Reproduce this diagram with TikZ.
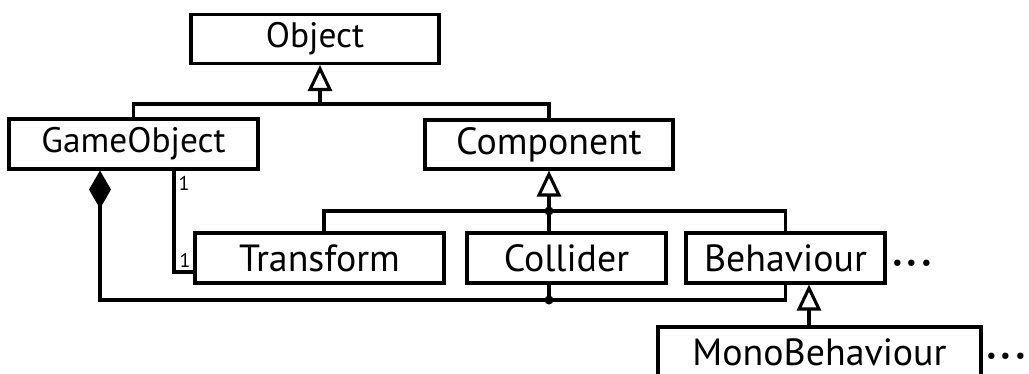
\documentclass[tikz,border=0pt]{standalone}
\usepackage{fontspec}
\setmainfont{PT Sans}
\usetikzlibrary{arrows.meta}

\tikzset{
  cls/.style={draw, line width=3.1bp, minimum height=50bp, inner sep=0pt, font=\fontsize{38}{40}\selectfont},
  clstop/.style={cls, font=\fontsize{35.5}{38}\selectfont},
  conn/.style={line width=3.1bp},
  inherit/.style={conn, -{Triangle[open, length=26bp, width=24bp]}},
  compose/.style={conn, {Diamond[length=38bp, width=22bp]}-},
  mult/.style={font=\fontsize{20}{22}\selectfont, inner sep=0pt},
  joint/.style={circle, fill, inner sep=0pt, minimum size=9bp},
  more/.style={font=\fontsize{55}{60}\selectfont, inner sep=0pt, anchor=base},
}

\begin{document}
\begin{tikzpicture}[x=1bp,y=-1bp]
\useasboundingbox (0,0) rectangle (1029,373);
\clip (0,0) rectangle (1029,373);

\node[clstop, minimum width=248bp, minimum height=49bp] (object) at (315,39) {Object};
\node[clstop, minimum width=249bp] (gameobj) at (133.5,144) {GameObject};
\node[clstop, minimum width=248bp, minimum height=49bp, font=\fontsize{38}{40}\selectfont] (component) at (549,144.5) {Component};

\node[cls, minimum width=249bp] (transform) at (319.5,258) {Transform};
\node[cls, minimum width=199bp] (collider) at (566.5,258) {Collider};
\node[cls, minimum width=199bp] (behaviour) at (785.5,258) {Behaviour};
\node[cls, minimum width=323bp] (mono) at (819.5,352) {MonoBehaviour};

\node[more] (dotsbeh) at (912,279) {···};
\node[more] (dotsmono) at (1006,372) {···};

\coordinate (top) at (320,104);
\coordinate (mid) at (549,211);
\coordinate (low) at (549,300);
\coordinate (diam) at (100,300);
\coordinate (assoc) at (174,272);
\coordinate (mb) at (809,327);

% inheritance
\draw[conn] (gameobj.north) |- (top) -| (component.north);
\draw[inherit] (top) -- (object.south -| top);

\draw[conn] ([xshift=4.5bp]transform.north) |- (mid) -| (behaviour.north);
\draw[conn] (collider.north -| mid) -- (mid);
\draw[inherit] (mid) -- (component.south -| mid);
\node[joint] (jmid) at (mid) {};

\draw[inherit] (mono.north -| mb) -- (behaviour.south -| mb);

% composition
\draw[compose] (gameobj.south -| diam) -- (diam) -| (behaviour.south);
\draw[conn] (collider.south -| low) -- (low);
\node[joint] (jlow) at (low) {};

% association
\draw[conn] (gameobj.south -| assoc) |- (transform.west |- assoc);
\node[mult] (m1) at (184,183) {1};
\node[mult] (m2) at (185,260) {1};
\end{tikzpicture}
\end{document}
